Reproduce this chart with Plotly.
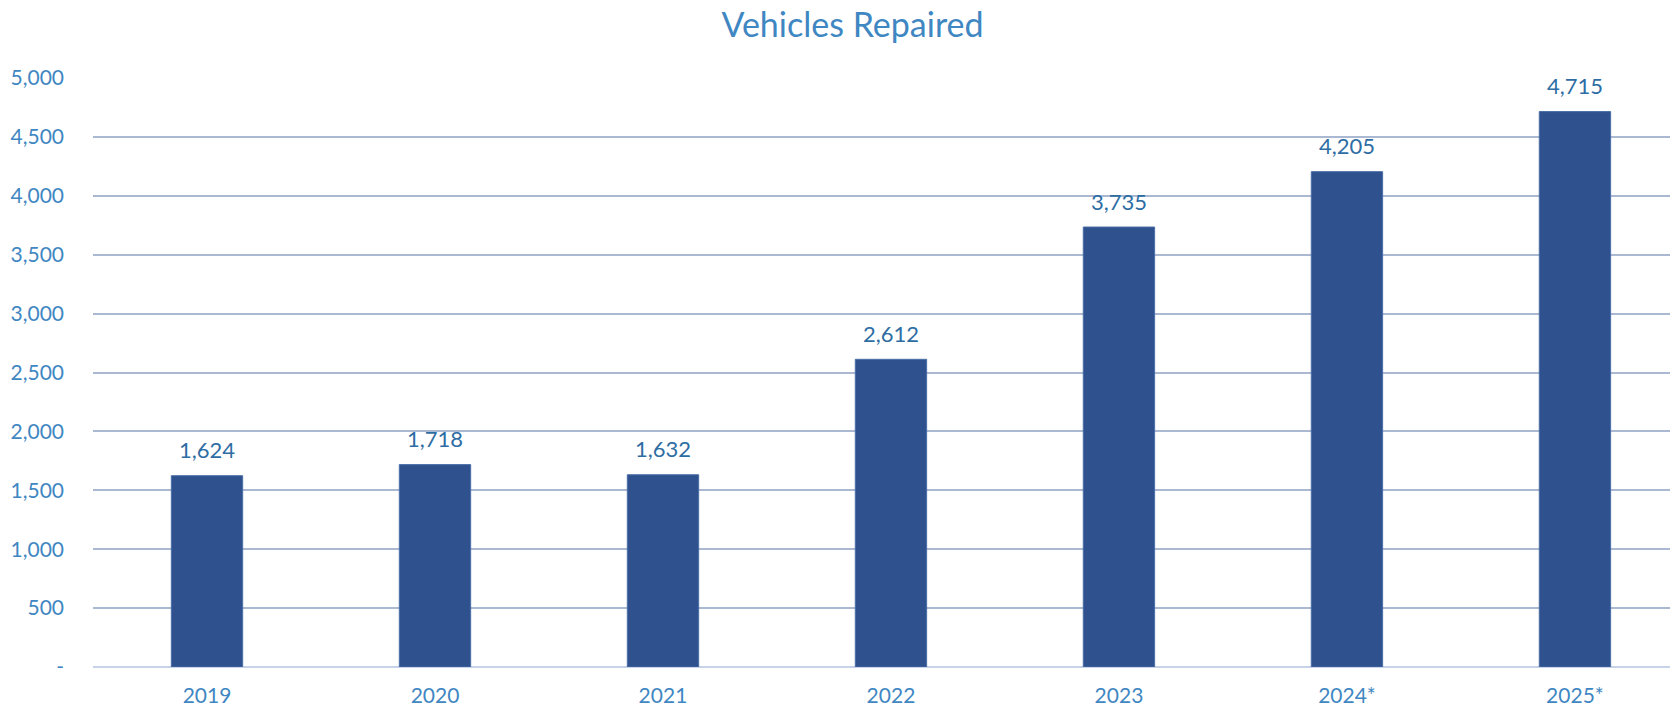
import plotly.graph_objects as go

years = ["2019", "2020", "2021", "2022", "2023", "2024*", "2025*"]
repaired = [1624, 1718, 1632, 2612, 3735, 4205, 4715]
tick_vals = [0, 500, 1000, 1500, 2000, 2500, 3000, 3500, 4000, 4500, 5000]
tick_text = ["-", "500", "1,000", "1,500", "2,000", "2,500", "3,000", "3,500", "4,000", "4,500", "5,000"]

FONT = "Lato"
W, H = 1670, 701
fig = go.Figure()
fig.add_trace(go.Bar(
    x=list(range(len(years))), y=repaired, width=0.313,
    marker=dict(color="#2f528f", line=dict(color="#4a6ea8", width=1)),
    hoverinfo="skip",
))
for i, v in enumerate(repaired):
    fig.add_annotation(x=i, y=v, text=f"{v:,}", showarrow=False,
                       yanchor="middle", yshift=26,
                       font=dict(family=FONT, size=22, color="#2e6da4"))

fig.update_layout(
    width=W, height=H,
    margin=dict(l=85, r=0, t=70, b=42),
    paper_bgcolor="white", plot_bgcolor="white",
    showlegend=False,
    title=dict(text="Vehicles Repaired", x=(852.5 - 8) / W, xanchor="center",
               y=1 - 17.5 / H, yanchor="middle",
               font=dict(family=FONT, size=34, color="#3f87c2")),
    xaxis=dict(tickvals=list(range(len(years))), ticktext=years, range=[-0.5, 6.452],
               showgrid=False, zeroline=False, showline=False, ticks="",
               ticklabelstandoff=14,
               tickfont=dict(family=FONT, size=21, color="#3f87c2")),
    yaxis=dict(range=[0, 5000], tickvals=tick_vals, ticktext=tick_text,
               showgrid=True, gridcolor="#aab8d2", gridwidth=1.5,
               zeroline=True, zerolinecolor="#c6d3e8", zerolinewidth=2,
               showline=False, ticks="", ticklabelstandoff=28,
               tickfont=dict(family=FONT, size=21, color="#3f87c2")),
)
fig.write_html("out.html")
